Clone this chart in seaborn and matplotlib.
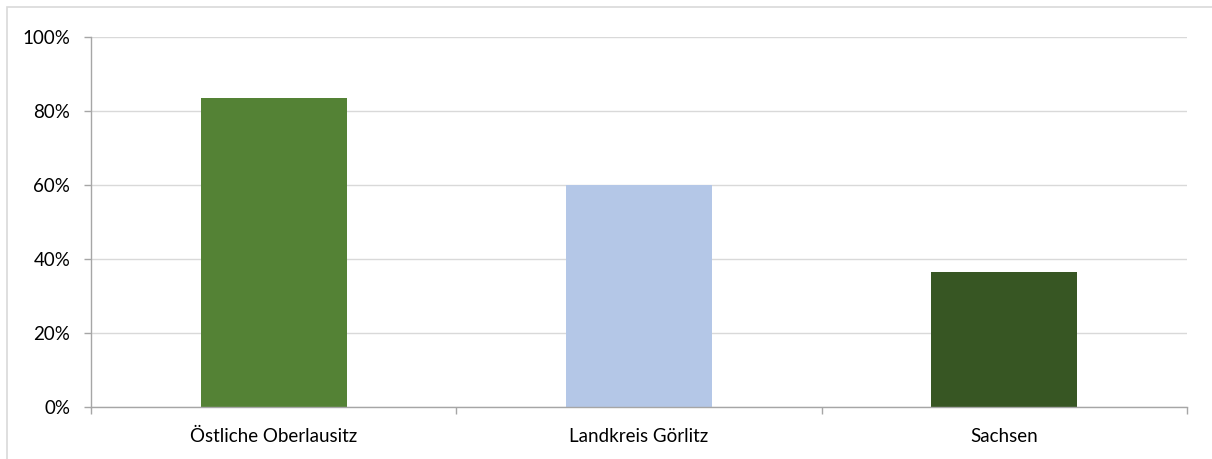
import matplotlib
matplotlib.use("Agg")
import matplotlib.pyplot as plt
import seaborn as sns
import pandas as pd
from matplotlib.ticker import PercentFormatter, FixedLocator
from matplotlib.patches import Rectangle

# Data
regions = ['Östliche Oberlausitz', 'Landkreis Görlitz', 'Sachsen']
shares = [83.5, 60.0, 36.5]
bar_colors = ['#548235', '#B4C7E7', '#375623']

df = pd.DataFrame({'Region': regions, 'Anteil': shares})

sns.set_theme(style='white')
plt.rcParams['font.family'] = ['Lato', 'DejaVu Sans']

fig = plt.figure(figsize=(12.12, 4.59), dpi=100)
ax = fig.add_axes([0.0751, 0.1133, 0.9043, 0.8061])

sns.barplot(data=df, x='Region', y='Anteil', hue='Region', palette=bar_colors,
            order=regions, hue_order=regions, width=0.4, legend=False, ax=ax,
            saturation=1, linewidth=0)

ax.set_ylim(0, 100)
ax.set_xlim(-0.5, len(regions) - 0.5)
ax.set_yticks(range(0, 101, 20))
ax.yaxis.set_major_formatter(PercentFormatter(decimals=0))
ax.yaxis.grid(True, color='#D9D9D9', linewidth=1)
ax.set_axisbelow(True)

# category boundary tick marks on x axis
ax.xaxis.set_minor_locator(FixedLocator([i - 0.5 for i in range(len(regions) + 1)]))
ax.tick_params(axis='x', which='major', length=0, pad=15, labelsize=13.5, labelcolor='#000000')
ax.tick_params(axis='x', which='minor', length=5, width=1, color='#A6A6A6', direction='out', bottom=True)
ax.tick_params(axis='y', which='major', length=5, width=1, color='#A6A6A6', direction='out',
               left=True, pad=10, labelsize=13.5, labelcolor='#000000')

for side in ['top', 'right']:
    ax.spines[side].set_visible(False)
for side in ['left', 'bottom']:
    ax.spines[side].set_color('#A6A6A6')
    ax.spines[side].set_linewidth(1)

ax.set_xlabel('')
ax.set_ylabel('')

# light frame around the chart area
fig.patches.append(Rectangle((7 / 1212, -0.01), 1.02, (459 - 7) / 459 + 0.01,
                             transform=fig.transFigure, fill=False,
                             edgecolor='#D9D9D9', linewidth=1.2))

fig.savefig('out.png', dpi=100)
